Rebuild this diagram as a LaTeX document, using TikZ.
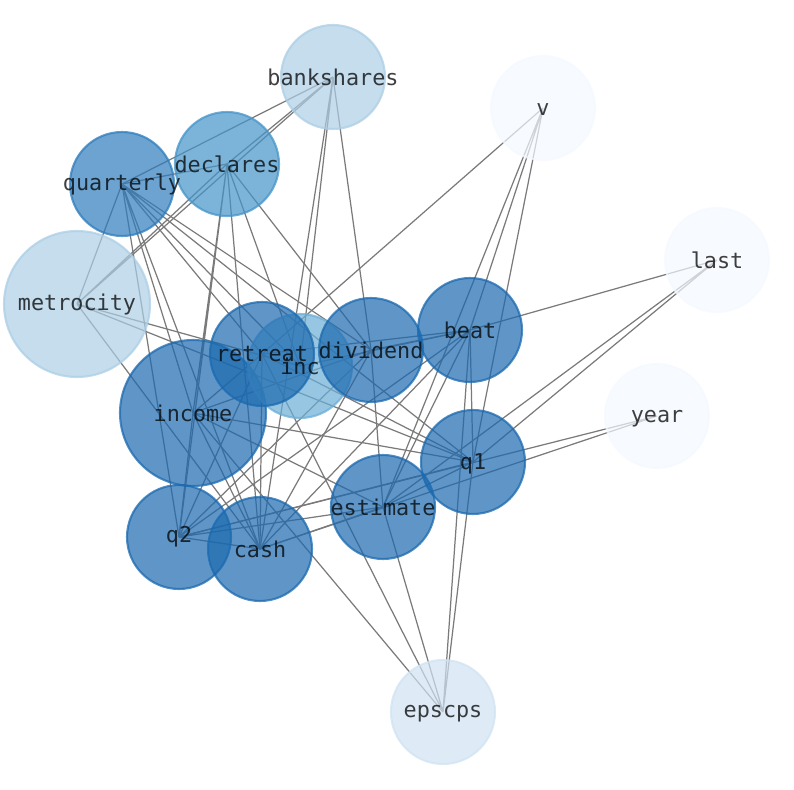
\documentclass[tikz,border=0pt]{standalone}
\usepackage{fontspec}
\setmonofont{DejaVu Sans Mono}
\usepackage{tikz}
\pgfdeclarelayer{background}
\pgfsetlayers{background,main}
\definecolor{bluedark}{HTML}{1B69AF}
\definecolor{bluequart}{HTML}{2E7CBC}
\definecolor{bluedecl}{HTML}{4494C9}
\definecolor{blueinc}{HTML}{6BAED6}
\definecolor{bluelight}{HTML}{ACCEE5}
\definecolor{bluepale}{HTML}{D0E3F2}
\definecolor{bluewhite}{HTML}{F4F9FF}
\tikzset{
  word/.style={circle, minimum size=2.08cm, inner sep=0pt, fill opacity=0.7,
    draw opacity=0.75, line width=1.2pt},
  bigword/.style={word, minimum size=2.92cm},
  wordtext/.style={inner sep=0pt, text=black, text opacity=0.75,
    font=\ttfamily\fontsize{12.4}{14}\selectfont},
  edge/.style={draw=black!52, line width=0.7pt}
}

\begin{document}
\begin{tikzpicture}[x=0.02cm, y=-0.02cm]
    \useasboundingbox (0,0) rectangle (794,790);
    \node[word, fill=bluelight, draw=bluelight] (bank) at (333,77) {};
    \node[word, fill=bluewhite, draw=bluewhite] (v) at (543,108) {};
    \node[word, fill=bluedecl, draw=bluedecl] (decl) at (227,164) {};
    \node[word, fill=bluequart, draw=bluequart] (quart) at (122,184) {};
    \node[word, fill=bluewhite, draw=bluewhite] (last) at (717,260) {};
    \node[bigword, fill=bluelight, draw=bluelight] (metro) at (77,304) {};
    \node[bigword, fill=bluedark, draw=bluedark] (income) at (193,413) {};
    \node[word, fill=blueinc, draw=blueinc] (inc) at (300,366) {};
    \node[word, fill=bluedark, draw=bluedark] (retreat) at (262,354) {};
    \node[word, fill=bluedark, draw=bluedark] (div) at (371,350) {};
    \node[word, fill=bluedark, draw=bluedark] (beat) at (470,330) {};
    \node[word, fill=bluewhite, draw=bluewhite] (year) at (657,416) {};
    \node[word, fill=bluedark, draw=bluedark] (qone) at (473,462) {};
    \node[word, fill=bluedark, draw=bluedark] (est) at (383,507) {};
    \node[word, fill=bluedark, draw=bluedark] (qtwo) at (179,537) {};
    \node[word, fill=bluedark, draw=bluedark] (cash) at (260,549) {};
    \node[word, fill=bluepale, draw=bluepale] (eps) at (443,712) {};

    % labels on top of every disc
    \node[wordtext] (bank-t) at (bank) {bankshares};
    \node[wordtext] (v-t) at ([yshift=-0.04cm]v) {v};
    \node[wordtext] (decl-t) at (decl) {declares};
    \node[wordtext] (quart-t) at (quart) {quarterly};
    \node[wordtext] (last-t) at (last) {last};
    \node[wordtext] (metro-t) at (metro) {metrocity};
    \node[wordtext] (income-t) at (income) {income};
    \node[wordtext] (retreat-t) at (retreat) {retreat};
    \node[wordtext] (inc-t) at (inc) {inc};
    \node[wordtext] (div-t) at (div) {dividend};
    \node[wordtext] (beat-t) at (beat) {beat};
    \node[wordtext] (year-t) at ([yshift=-0.06cm]year) {year};
    \node[wordtext] (qone-t) at ([yshift=-0.03cm]qone) {q1};
    \node[wordtext] (est-t) at (est) {estimate};
    \node[wordtext] (qtwo-t) at (qtwo) {q2};
    \node[wordtext] (cash-t) at (cash) {cash};
    \node[wordtext] (eps-t) at ([yshift=-0.04cm]eps) {epscps};

    \begin{pgfonlayer}{background}
    % company notice
    \draw[edge] (metro.center) -- (bank.center) (metro.center) -- (decl.center)
      (metro.center) -- (quart.center) (metro.center) -- (inc.center)
      (metro.center) -- (cash.center) (metro.center) -- (qone.center);
    \draw[edge] (bank.center) -- (decl.center) (bank.center) -- (quart.center)
      (bank.center) -- (inc.center) (bank.center) -- (div.center)
      (bank.center) -- (cash.center);
    \draw[edge] (decl.center) -- (quart.center) (decl.center) -- (qtwo.center)
      (decl.center) -- (income.center) (decl.center) -- (cash.center)
      (decl.center) -- (inc.center) (decl.center) -- (div.center);
    \draw[edge] (quart.center) -- (qtwo.center) (quart.center) -- (income.center)
      (quart.center) -- (cash.center) (quart.center) -- (retreat.center)
      (quart.center) -- (inc.center) (quart.center) -- (qone.center)
      (quart.center) -- (div.center);
    % results
    \draw[edge] (v.center) -- (retreat.center) (v.center) -- (est.center)
      (v.center) -- (beat.center) (v.center) -- (qone.center);
    \draw[edge] (last.center) -- (beat.center) (last.center) -- (est.center)
      (last.center) -- (qone.center);
    \draw[edge] (year.center) -- (qtwo.center) (year.center) -- (cash.center);
    \draw[edge] (eps.center) -- (income.center) (eps.center) -- (retreat.center)
      (eps.center) -- (est.center) (eps.center) -- (beat.center)
      (eps.center) -- (qone.center);
    \draw[edge] (beat.center) -- (div.center) (beat.center) -- (inc.center)
      (beat.center) -- (retreat.center) (beat.center) -- (qtwo.center)
      (beat.center) -- (cash.center) (beat.center) -- (est.center)
      (beat.center) -- (qone.center);
    \draw[edge] (div.center) -- (income.center) (div.center) -- (qtwo.center)
      (div.center) -- (est.center) (div.center) -- (cash.center);
    \draw[edge] (retreat.center) -- (income.center) (retreat.center) -- (qtwo.center)
      (retreat.center) -- (cash.center) (retreat.center) -- (qone.center);
    \draw[edge] (income.center) -- (qtwo.center) (income.center) -- (cash.center)
      (income.center) -- (est.center) (income.center) -- (qone.center);
    \draw[edge] (qtwo.center) -- (cash.center) (qtwo.center) -- (est.center)
      (qtwo.center) -- (qone.center) (cash.center) -- (est.center)
      (est.center) -- (qone.center);
    \end{pgfonlayer}
\end{tikzpicture}
\end{document}
